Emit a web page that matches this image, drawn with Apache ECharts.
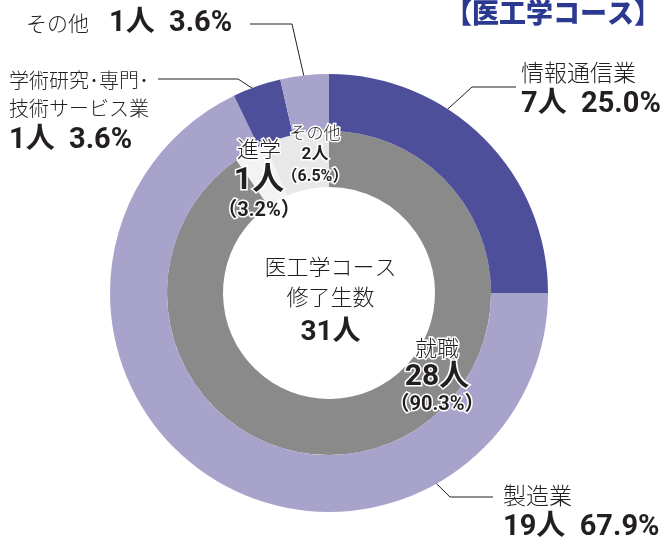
<!DOCTYPE html>
<html>
<head>
<meta charset="utf-8">
<script src="https://cdn.jsdelivr.net/npm/echarts@6/dist/echarts.min.js"></script>
<style>
  html, body { margin: 0; padding: 0; background: #ffffff; }
  #chart { width: 661px; height: 544px; }
</style>
</head>
<body>
<div id="chart"></div>
<script>
// 医工学コース修了生の進路
const courseTitle = '【医工学コース】';
const centerLines = ['医工学コース', '修了生数'];

// 内側：進路区分
const pathNames = ['就職', '進学', 'その他'];
const pathValues = [28, 1, 2];
const pathColors = ['#8a8a8a', '#f3f3f3', '#e8e8e8'];

// 外側：就職先の業種
const industryNames = ['情報通信業', '製造業', '学術研究･専門･\n技術サービス業', 'その他'];
const industryValues = [7, 19, 1, 1];
const industryColors = ['#4e4f9b', '#a8a3cb', '#4e4f9b', '#a8a3cb'];

const CX = 329, CY = 293;
const R_HOLE = 106, R_MID = 162, R_OUT = 219;
const INK = '#231f20';
const JP = '"Noto Sans CJK JP", "Noto Sans", sans-serif';
const NUM = 'Roboto, "Noto Sans CJK JP", sans-serif';

const sum = a => a.reduce((s, v) => s + v, 0);
const pathTotal = sum(pathValues);
const industryTotal = sum(industryValues);
const pct = (v, t) => (v / t * 100).toFixed(1);

// 外側ラベルの配置（ラベル左上、名称の文字スタイル、引出線の起点位置・折れ点・終点）
const outerLayout = [
  { x: 521, y: 58,  name: 'n',  frac: 0.36, elbow: [472, 87],  end: [516, 87] },
  { x: 503, y: 481, name: 'n',  frac: 0.25, elbow: [450, 497], end: [493, 497] },
  { x: 9,   y: 66,  name: 'ns', frac: 0.5,  elbow: [238, 79],  end: [158, 79] },
  { x: 26,  y: 5,   name: 'nm', frac: 0.5,  elbow: [292, 24],  end: [250, 24] }
];
// 内側ラベルの中心位置
const innerLayout = [
  { x: 437, y: 376 },
  { x: 259, y: 179 },
  { x: 315, y: 155 }
];

function anchorPoint(idx) {
  let start = 0;
  for (let i = 0; i < idx; i++) start += industryValues[i];
  const a0 = start / industryTotal * 360;
  const a1 = (start + industryValues[idx]) / industryTotal * 360;
  const deg = a0 + (a1 - a0) * outerLayout[idx].frac;
  const r = (R_OUT + R_MID) / 2 + 22;
  const rad = deg * Math.PI / 180;
  return [CX + r * Math.sin(rad), CY - r * Math.cos(rad)];
}

const outerData = industryNames.map((n, i) => ({
  name: n, value: industryValues[i], itemStyle: { color: industryColors[i] }
}));
const innerData = pathNames.map((n, i) => ({
  name: n, value: pathValues[i], itemStyle: { color: pathColors[i] }
}));

const jpStyle = (size, lh) => ({
  fontFamily: JP, fontWeight: 300, fontSize: size, lineHeight: lh, color: INK
});
const numStyle = (size, lh) => ({
  fontFamily: NUM, fontWeight: 'bold', fontSize: size, lineHeight: lh, color: INK
});
const halo = s => Object.assign(s, { textBorderColor: '#ffffff', textBorderWidth: 3 });

const chart = echarts.init(document.getElementById('chart'), null, { renderer: 'canvas' });

chart.setOption({
  backgroundColor: '#ffffff',
  animation: false,
  title: {
    text: courseTitle,
    left: 440, top: -6,
    textStyle: { color: '#2b3990', fontFamily: JP, fontWeight: 900, fontSize: 27 }
  },
  graphic: [{
    type: 'group',
    left: 'center', top: 256,
    children: [
      { type: 'text', x: 0, y: 0, style: { text: centerLines[0], font: '300 22px ' + JP, fill: INK, textAlign: 'center' } },
      { type: 'text', x: 0, y: 30, style: { text: centerLines[1], font: '300 22px ' + JP, fill: INK, textAlign: 'center' } },
      { type: 'text', x: 0, y: 63, style: { text: pathTotal + '人', font: 'bold 28px ' + NUM, fill: INK, textAlign: 'center' } }
    ]
  }],
  series: [
    {
      type: 'pie',
      center: [CX, CY],
      radius: [R_HOLE, R_MID],
      startAngle: 90,
      clockwise: true,
      silent: true,
      data: innerData,
      label: {
        show: true,
        position: 'inside',
        overflow: 'none',
        formatter: p => {
          const k = p.dataIndex === 2 ? 's' : (p.dataIndex === 1 ? 'b' : 'm');
          return `{${k}n|${p.name}}\n{${k}v|${p.value}人}\n{${k}p|（${pct(p.value, pathTotal)}%）}`;
        },
        rich: {
          mn: halo(jpStyle(22, 28)),
          mv: halo(numStyle(30, 30)),
          mp: halo(numStyle(20, 26)),
          bn: halo(jpStyle(22, 30)),
          bv: halo(numStyle(32, 34)),
          bp: halo(numStyle(20, 26)),
          sn: halo(jpStyle(17, 21)),
          sv: halo(numStyle(17, 22)),
          sp: halo(numStyle(16, 22))
        }
      },
      labelLine: { show: false },
      labelLayout: p => ({
        x: innerLayout[p.dataIndex].x,
        y: innerLayout[p.dataIndex].y,
        align: 'center',
        verticalAlign: 'middle'
      })
    },
    {
      type: 'pie',
      center: [CX, CY],
      radius: [R_MID, R_OUT],
      startAngle: 90,
      clockwise: true,
      silent: true,
      data: outerData,
      label: {
        show: true,
        position: 'outside',
        align: 'left',
        overflow: 'none',
        formatter: p => {
          const st = outerLayout[p.dataIndex].name;
          const val = `{v|${p.value}人  ${pct(p.value, industryTotal)}%}`;
          if (p.dataIndex === 3) return `{${st}|${p.name}}{g|}${val}`;
          const nameLines = p.name.split('\n').map(s => `{${st}|${s}}`).join('\n');
          return `${nameLines}\n${val}`;
        },
        rich: {
          n: Object.assign(jpStyle(23, 28), { align: 'left' }),
          nm: Object.assign(jpStyle(21, 28), { align: 'left' }),
          ns: Object.assign(jpStyle(20, 28), { align: 'left' }),
          v: Object.assign(numStyle(29, 37), { align: 'left' }),
          g: { width: 20 }
        }
      },
      labelLine: { show: true, lineStyle: { color: INK, width: 1 } },
      labelLayout: p => {
        const L = outerLayout[p.dataIndex];
        return {
          x: L.x, y: L.y,
          align: 'left', verticalAlign: 'top',
          labelLinePoints: [anchorPoint(p.dataIndex), L.elbow, L.end]
        };
      }
    }
  ]
});
</script>
</body>
</html>
